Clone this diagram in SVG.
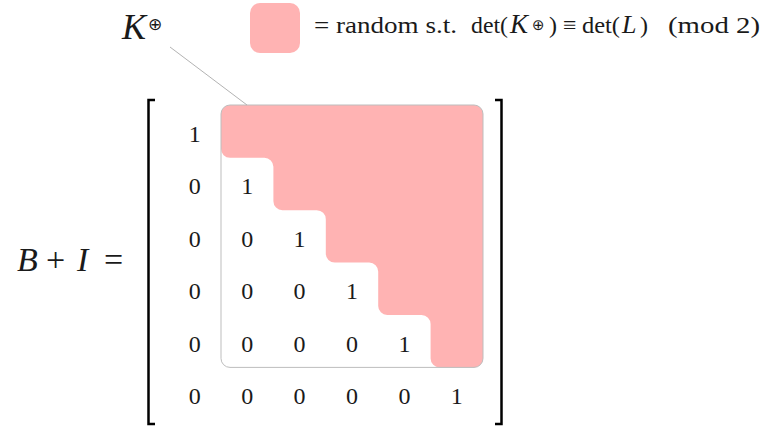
<svg xmlns="http://www.w3.org/2000/svg" width="764" height="428" viewBox="0 0 764 428">
<style>
.t{font-family:"Liberation Serif","DejaVu Serif",serif;fill:#1a1a1a}
.m{font-size:24px;text-anchor:middle}
.i{font-style:italic}
.s{font-family:"DejaVu Sans",sans-serif}
.pink{fill:#ffb3b3}
.br{fill:none;stroke:#000;stroke-width:2.5}
</style>
<rect width="764" height="428" fill="#fff"/>
<g id="legend">
<rect class="pink" x="250" y="3" width="50" height="50" rx="10"/>
<text class="t" font-size="24" y="33.3">
<tspan x="314" textLength="143" lengthAdjust="spacingAndGlyphs">= random s.t.</tspan>
<tspan x="471" textLength="37" lengthAdjust="spacingAndGlyphs">det(</tspan>
<tspan x="510" class="i" font-size="27">K</tspan>
<tspan x="549">)</tspan>
<tspan x="563">≡</tspan>
<tspan x="582" textLength="38" lengthAdjust="spacingAndGlyphs">det(</tspan>
<tspan x="622" class="i" font-size="26">L</tspan>
<tspan x="640">)</tspan>
<tspan x="668" textLength="92" lengthAdjust="spacingAndGlyphs">(mod 2)</tspan>
</text>
<text class="t s" x="532" y="29.5" font-size="15">⊕</text>
</g>
<g id="label-K">
<text class="t i" x="122" y="39" font-size="36">K</text>
<text class="t s" x="148" y="29.5" font-size="17">⊕</text>
</g>
<g id="lhs">
<text class="t i" x="17" y="271" font-size="34">B</text>
<text class="t" x="46" y="271" font-size="34">+</text>
<text class="t i" x="77" y="271" font-size="34">I</text>
<text class="t" x="104" y="271" font-size="34">=</text>
</g>
<g id="matrix">
<path class="br" d="M155,100 H148.5 V424 H155"/>
<path class="br" d="M495,100 H501.5 V424 H495"/>
<g id="block">
<path class="pink" d="M221,114 A9 9 0 0 1 230,105 H474 A9 9 0 0 1 483,114 V358.4 A9 9 0 0 1 474,367.4 H439.6 A9 9 0 0 1 430.6,358.4 V324 A9 9 0 0 0 421.6,315 H387.2 A9 9 0 0 1 378.2,306 V271.6 A9 9 0 0 0 369.2,262.6 H334.8 A9 9 0 0 1 325.8,253.6 V219.2 A9 9 0 0 0 316.8,210.2 H282.4 A9 9 0 0 1 273.4,201.2 V166.8 A9 9 0 0 0 264.4,157.8 H230 A9 9 0 0 1 221,148.8 Z"/>
<rect x="221" y="105" width="262" height="262.4" rx="9" fill="none" stroke="#bdbdbd" stroke-width="1"/>
</g>
<g id="entries" class="t m">
<text x="194.8" y="142">1</text>
<text x="194.8" y="194.4">0</text><text x="247.2" y="194.4">1</text>
<text x="194.8" y="246.8">0</text><text x="247.2" y="246.8">0</text><text x="299.6" y="246.8">1</text>
<text x="194.8" y="299.2">0</text><text x="247.2" y="299.2">0</text><text x="299.6" y="299.2">0</text><text x="352" y="299.2">1</text>
<text x="194.8" y="351.6">0</text><text x="247.2" y="351.6">0</text><text x="299.6" y="351.6">0</text><text x="352" y="351.6">0</text><text x="404.4" y="351.6">1</text>
<text x="194.8" y="404">0</text><text x="247.2" y="404">0</text><text x="299.6" y="404">0</text><text x="352" y="404">0</text><text x="404.4" y="404">0</text><text x="456.8" y="404">1</text>
</g>
</g>
<g id="connectors">
<line x1="170" y1="47" x2="247" y2="105" stroke="#b3b3b3" stroke-width="1"/>
</g>
</svg>
